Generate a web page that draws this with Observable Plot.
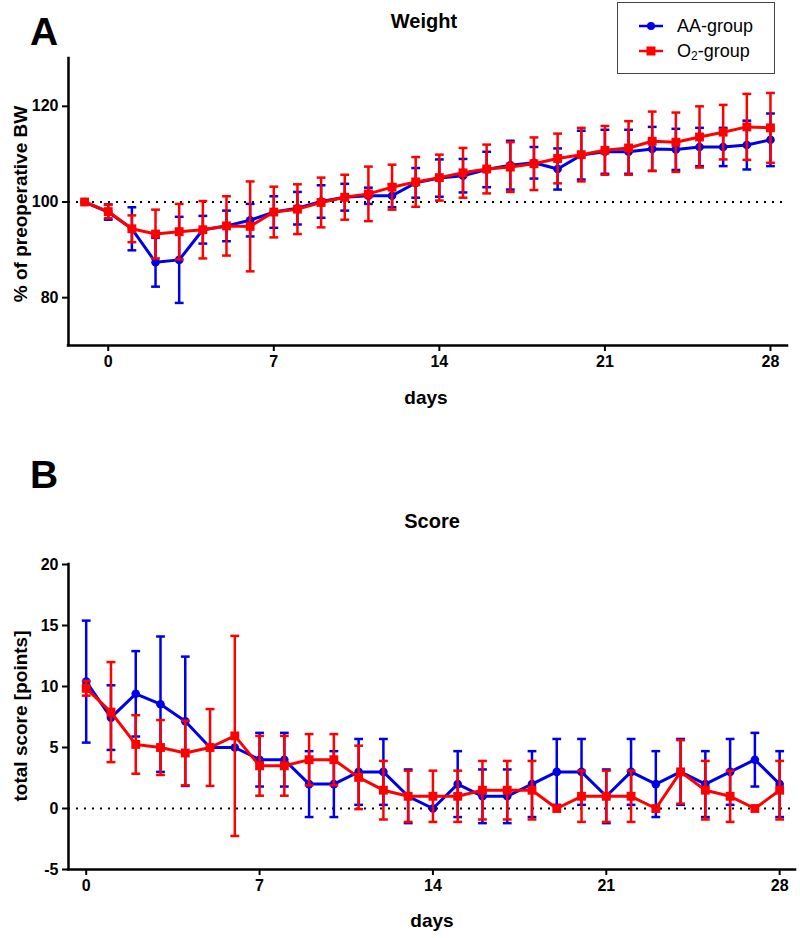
<!DOCTYPE html>
<html><head><meta charset="utf-8">
<script src="https://cdn.jsdelivr.net/npm/d3@7"></script>
<script src="https://cdn.jsdelivr.net/npm/@observablehq/plot@0.6"></script>
<style>
body{margin:0;background:#fff;font-family:"Liberation Sans",Arial,sans-serif;}
#wrap{position:relative;width:800px;height:938px;overflow:hidden;}
.abs{position:absolute;white-space:nowrap;color:#000;line-height:1;}
.b{font-weight:bold;}
.rot{transform:translate(-50%,-50%) rotate(-90deg);}
.ctr{transform:translate(-50%,0);}
#legend{position:absolute;left:617px;top:2px;width:158px;height:72px;border:1.5px solid #444;background:#fff;box-sizing:border-box;}
.lrow{position:absolute;left:0;height:24px;display:flex;align-items:center;font-size:18px;}
</style></head><body><div id="wrap"></div>
<script>
// ---------------- DATA ----------------
const groups = ["AA-group", "O2-group"];
const colors = ["#0000e6", "#ff0000"];

// Panel A: weight, % of preoperative BW (day -1 = preoperative)
const weightDays = [-1,0,1,2,3,4,5,6,7,8,9,10,11,12,13,14,15,16,17,18,19,20,21,22,23,24,25,26,27,28];
const aaWeight   = [100,97.9,94.4,87.4,87.9,94.2,95.0,96.2,97.9,98.7,100.1,101.0,101.3,101.3,104.0,105.0,105.5,106.8,107.7,108.2,106.9,109.8,110.5,110.5,111.1,111.0,111.5,111.5,111.9,113.0];
const aaWeightSD = [0,1.6,4.5,5.1,9.0,2.9,3.2,3.4,3.3,3.4,3.4,2.8,1.7,2.4,3.1,3.9,3.5,3.7,5.1,3.3,4.3,5.1,4.6,4.6,4.6,4.3,4.0,4.0,5.1,5.5];
const o2Weight   = [100,98.0,94.4,93.3,93.8,94.2,95.0,94.9,97.9,98.5,99.9,101.0,101.7,103.1,104.2,105.1,106.1,106.9,107.3,108.0,109.1,109.9,110.8,111.3,112.7,112.5,113.6,114.6,115.7,115.5];
const o2WeightSD = [0,1.4,2.8,5.1,5.8,6.0,6.2,9.4,5.3,5.2,5.2,4.7,5.7,4.7,5.2,4.8,5.2,5.1,5.2,5.5,5.2,5.6,5.1,5.6,6.2,6.2,6.4,5.7,6.9,7.3];

// Panel B: total score [points]
const scoreDays = [0,1,2,3,4,5,6,7,8,9,10,11,12,13,14,15,16,17,18,19,20,21,22,23,24,25,26,27,28];
const aaScore   = [10.4,7.45,9.4,8.55,7.15,5.0,5.0,4.0,4.0,2.0,2.0,3.0,3.0,1.0,0,2.0,1.0,1.0,2.0,3.0,3.0,1.0,3.0,2.0,3.0,2.0,3.0,4.0,2.0];
const aaScoreSD = [5.0,2.65,3.5,5.55,5.3,0,0,2.2,2.2,2.7,2.7,2.7,2.7,2.2,0,2.7,2.2,2.2,2.7,2.7,2.7,2.2,2.7,2.7,2.7,2.7,2.7,2.2,2.7];
const o2Score   = [9.85,7.9,5.25,5.0,4.55,5.0,5.95,3.5,3.5,4.0,4.0,2.55,1.5,1.0,1.0,1.0,1.5,1.5,1.5,0,1.0,1.0,1.0,0,3.0,1.5,1.0,0,1.5];
const o2ScoreSD = [0.6,4.1,2.4,2.25,2.65,3.15,8.2,2.45,2.45,2.1,2.1,2.6,2.4,2.1,2.1,2.1,2.4,2.4,2.4,0,2.1,2.1,2.1,0,2.6,2.4,2.1,0,2.4];

const weightTicksX = [0,7,14,21,28];
const weightTicksY = [80,100,120];
const scoreTicksX = [0,7,14,21,28];
const scoreTicksY = [-5,0,5,10,15,20];

// ---------------- BUILD ----------------
const capSymbol = {draw(ctx, size){ const w = Math.sqrt(size/Math.PI); ctx.moveTo(-w,0); ctx.lineTo(w,0); }};
function rows(days, means, sds){ return days.map((d,i)=>({day:d, mean:means[i], sd:sds[i]})); }

function groupMarks(data, color, symbol, r){
  const e = data.filter(d=>d.sd>0);
  return [
    Plot.ruleX(e, {x:"day", y1:d=>d.mean-d.sd, y2:d=>d.mean+d.sd, stroke:color, strokeWidth:2.5}),
    Plot.dot(e, {x:"day", y:d=>d.mean+d.sd, symbol:capSymbol, r:4.4, stroke:color, strokeWidth:2.5, fill:"none"}),
    Plot.dot(e, {x:"day", y:d=>d.mean-d.sd, symbol:capSymbol, r:4.4, stroke:color, strokeWidth:2.5, fill:"none"}),
    Plot.line(data, {x:"day", y:"mean", stroke:color, strokeWidth:3}),
    Plot.dot(data, {x:"day", y:"mean", symbol:symbol, r:r, fill:color, stroke:"none"})
  ];
}

const style = {fontFamily:"'Liberation Sans', Arial, sans-serif", fontSize:"16px", fontWeight:"bold", color:"#000", background:"transparent", overflow:"visible"};

function panel(opts){
  return Plot.plot({
    width:800, height:opts.height,
    marginTop:opts.mt, marginBottom:opts.mb, marginLeft:68, marginRight:opts.mr,
    style,
    x:{domain:opts.xd, ticks:opts.tx},
    y:{domain:opts.yd, ticks:opts.ty},
    marks:[
      Plot.ruleY([opts.ref], {stroke:"#000", strokeWidth:2, strokeDasharray:"2 6"}),
      ...groupMarks(opts.a, colors[0], "circle", 4.3),
      ...groupMarks(opts.b, colors[1], "square", 5.0),
      Plot.axisX({ticks:opts.tx, tickSize:6, strokeWidth:2, tickPadding:4, label:null, tickFormat:d=>String(d)}),
      Plot.axisY({ticks:opts.ty, tickSize:6, strokeWidth:2, tickPadding:4, label:null, tickFormat:d=>String(d)}),
      Plot.ruleX([opts.xd[0]], {stroke:"#000", strokeWidth:2.5, strokeLinecap:"square"}),
      Plot.ruleY([opts.yd[0]], {stroke:"#000", strokeWidth:2.5, strokeLinecap:"square"})
    ]
  });
}

const wrap = document.getElementById("wrap");

const pA = panel({height:410, mt:58, mb:65, mr:13, xd:[-1.68,28.72], yd:[70,130], tx:weightTicksX, ty:weightTicksY, ref:100,
  a:rows(weightDays, aaWeight, aaWeightSD), b:rows(weightDays, o2Weight, o2WeightSD)});
const pB = panel({height:528, mt:154, mb:69, mr:5, xd:[-0.715,28.64], yd:[-5,20], tx:scoreTicksX, ty:scoreTicksY, ref:0,
  a:rows(scoreDays, aaScore, aaScoreSD), b:rows(scoreDays, o2Score, o2ScoreSD)});

const dA = document.createElement("div"); dA.style.cssText="position:absolute;left:0;top:0;"; dA.appendChild(pA); wrap.appendChild(dA);
const dB = document.createElement("div"); dB.style.cssText="position:absolute;left:0;top:410px;"; dB.appendChild(pB); wrap.appendChild(dB);

function txt(html, css, cls){ const d=document.createElement("div"); d.className="abs "+(cls||""); d.innerHTML=html; d.style.cssText=css; wrap.appendChild(d); return d; }

txt("A", "left:30px;top:12px;font-size:39px;", "b");
txt("B", "left:30px;top:455px;font-size:39px;", "b");
txt("Weight", "left:424px;top:11px;font-size:20px;", "b ctr");
txt("Score", "left:432px;top:511px;font-size:20px;", "b ctr");
txt("days", "left:426px;top:388px;font-size:19px;", "b ctr");
txt("days", "left:432px;top:911px;font-size:19px;", "b ctr");
txt("% of preoperative BW", "left:20px;top:204px;font-size:19px;", "b rot");
txt("total score [points]", "left:20px;top:716px;font-size:19px;", "b rot");

// legend
const lg = document.createElement("div"); lg.id="legend"; wrap.appendChild(lg);
const syms = [
  `<circle cx="12" cy="12" r="4" fill="${colors[0]}"/>`,
  `<rect x="7.5" y="7.5" width="9" height="9" fill="${colors[1]}"/>`
];
const labels = ["AA-group", "O<sub style='font-size:12px;vertical-align:-3px;line-height:0'>2</sub>-group"];
groups.forEach((g,i)=>{
  const r = document.createElement("div"); r.className="lrow"; r.style.top=(i===0?11:36)+"px";
  r.innerHTML = `<svg width="24" height="24" style="margin-left:21px;margin-right:14px"><line x1="0" y1="12" x2="24" y2="12" stroke="${colors[i]}" stroke-width="2.5"/>${syms[i]}</svg><span>${labels[i]}</span>`;
  lg.appendChild(r);
});
</script></body></html>
